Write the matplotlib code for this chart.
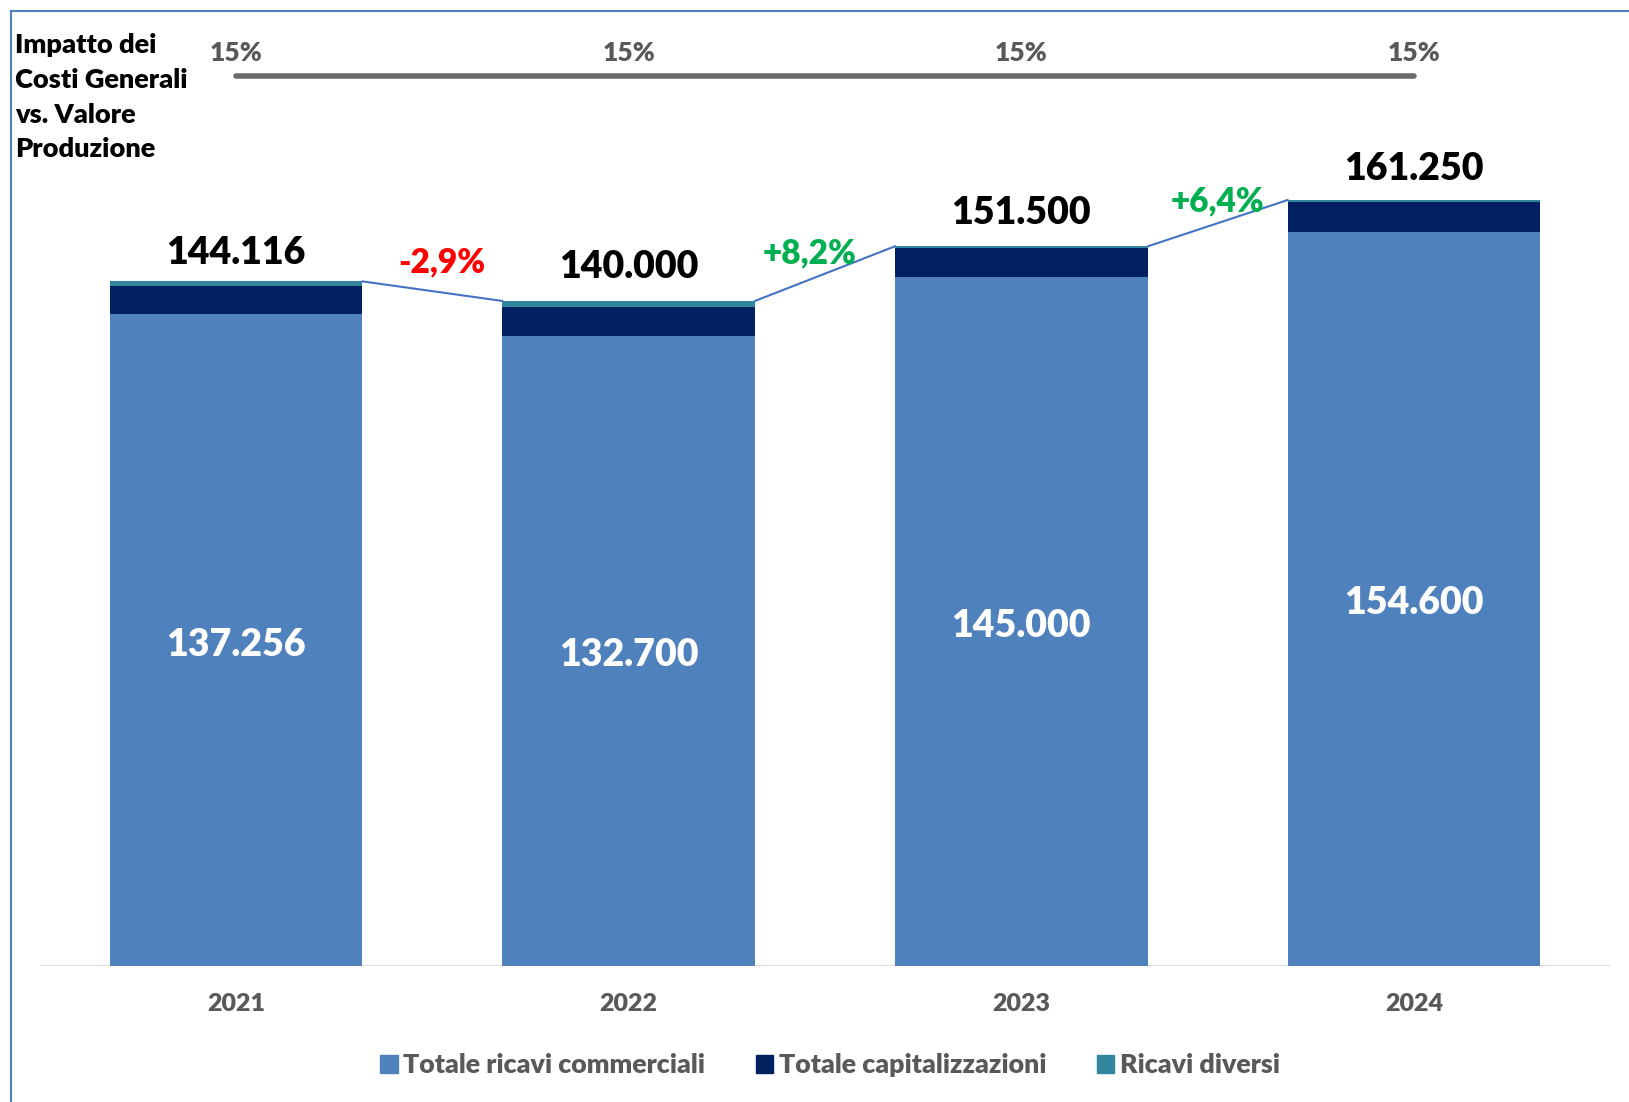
import matplotlib
matplotlib.use("Agg")
import matplotlib.pyplot as plt
from matplotlib.patches import Patch
from matplotlib.lines import Line2D

years = ["2021", "2022", "2023", "2024"]
ricavi_commerciali = [137.256, 132.700, 145.000, 154.600]
capitalizzazioni = [5.90, 6.00, 6.20, 6.15]
ricavi_diversi = [0.96, 1.30, 0.30, 0.50]
totali = [144.116, 140.000, 151.500, 161.250]
crescita = ["-2,9%", "+8,2%", "+6,4%"]
impatto = ["15%", "15%", "15%", "15%"]
series_names = ["Totale ricavi commerciali", "Totale capitalizzazioni", "Ricavi diversi"]

# layout nudges (not data)
growth_dx = [0.023, -0.04, 0.0]
growth_dy = [6.0, 4.3, 4.7]
total_dy_pt = [8.5, 12, 12, 10]

c_light = "#4F81BD"
c_dark = "#002060"
c_teal = "#31859C"
c_gray = "#595959"
W8 = 'heavy'

plt.rcParams['font.family'] = ['Lato', 'DejaVu Sans']

W, H = 1629, 1102
fig = plt.figure(figsize=(W / 100, H / 100), dpi=100)

base_px = 965.5
top_px = 10.0
ppu = 4.747
ytop = (base_px - top_px) / ppu
ax = fig.add_axes([39.6 / W, 1 - base_px / H, (1610.4 - 39.6) / W, (base_px - top_px) / H])
ax.set_xlim(-0.5, 3.5)
ax.set_ylim(0, ytop)

x = list(range(len(years)))
bw = 0.644
ax.bar(x, ricavi_commerciali, width=bw, color=c_light, label=series_names[0], zorder=2)
bottom2 = [a for a in ricavi_commerciali]
ax.bar(x, capitalizzazioni, width=bw, bottom=bottom2, color=c_dark, label=series_names[1], zorder=2)
bottom3 = [a + b for a, b in zip(ricavi_commerciali, capitalizzazioni)]
ax.bar(x, ricavi_diversi, width=bw, bottom=bottom3, color=c_teal, label=series_names[2], zorder=2)

for s in ax.spines.values():
    s.set_visible(False)
ax.axhline(0, color="#D9D9D9", lw=2, zorder=1)
ax.set_yticks([])
ax.set_xticks(x)
ax.set_xticklabels(years, fontsize=18, fontweight=W8, color=c_gray)
ax.tick_params(axis='x', length=0, pad=20)

# value labels
for i in x:
    ax.annotate(f"{ricavi_commerciali[i]:,.3f}".replace(",", "."), (i, ricavi_commerciali[i] / 2),
                xytext=(0, -3.5), textcoords='offset points',
                ha='center', va='center', color='white', fontsize=27, fontweight=W8, zorder=3)
    ax.annotate(f"{totali[i]:,.3f}".replace(",", "."), (i, totali[i]), xytext=(0, total_dy_pt[i]),
                textcoords='offset points', ha='center', va='bottom', fontsize=27,
                fontweight=W8, color='black')

# growth connector lines and labels
for i in range(len(years) - 1):
    ax.plot([i + bw / 2, i + 1 - bw / 2], [totali[i], totali[i + 1]], color="#4472C4", lw=1.5, zorder=2)
    col = "#FF0000" if crescita[i].startswith("-") else "#00B050"
    ax.text(i + 0.5 + growth_dx[i], (totali[i] + totali[i + 1]) / 2 + growth_dy[i], crescita[i],
            ha='center', va='center', fontsize=24, fontweight=W8, color=col)

# impatto line
y_line = (base_px - 75.8) / ppu
y_lab = (base_px - 53) / ppu
ax.plot([x[0], x[-1]], [y_line, y_line], color="#6B6B6B", lw=4, solid_capstyle='round', clip_on=False)
for i in x:
    ax.text(i, y_lab, impatto[i], ha='center', va='center', fontsize=19, fontweight=W8, color=c_gray)

fig.text(15 / W, 1 - 33 / H, "Impatto dei\nCosti Generali\nvs. Valore\nProduzione", ha='left', va='top',
         fontsize=19.5, fontweight=W8, color='black', linespacing=1.54)

# border
fig.add_artist(Line2D([10.5 / W, 10.5 / W], [0, 1 - 10.5 / H], color="#4F81BD", lw=1.5))
fig.add_artist(Line2D([10.5 / W, 1], [1 - 10.5 / H, 1 - 10.5 / H], color="#4F81BD", lw=1.5))

handles = [Patch(color=c_light), Patch(color=c_dark), Patch(color=c_teal)]
leg = fig.legend(handles, series_names, loc='center', bbox_to_anchor=(830 / W, 1 - 1065 / H), ncol=3,
                 frameon=False, fontsize=19.3, handlelength=0.65, handleheight=0.65, handletextpad=0.2,
                 columnspacing=1.9)
for t in leg.get_texts():
    t.set_color(c_gray)
    t.set_fontweight(W8)

fig.savefig("out.png", dpi=100)
